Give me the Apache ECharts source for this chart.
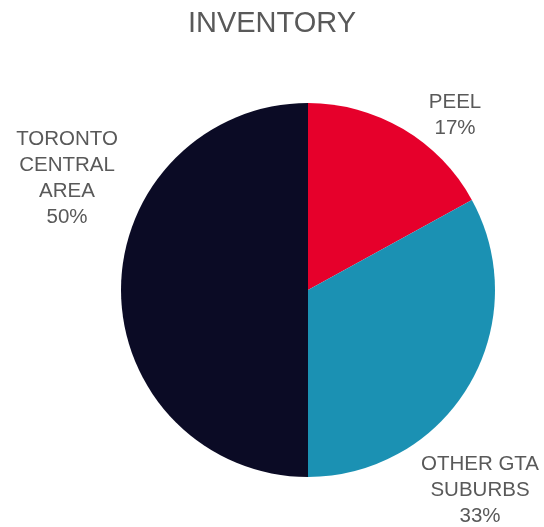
<!DOCTYPE html>
<html>
<head>
<meta charset="utf-8">
<script src="https://cdn.jsdelivr.net/npm/echarts@6/dist/echarts.min.js"></script>
<style>
  html, body { margin: 0; padding: 0; background: #fff; }
  #chart { width: 544px; height: 527px; }
</style>
</head>
<body>
<div id="chart"></div>
<script>
// Inventory share by region
const categories = ['PEEL', 'OTHER GTA\nSUBURBS', 'TORONTO\nCENTRAL\nAREA'];
const shares = [17, 33, 50];
const colors = ['#e6002b', '#1b91b3', '#0b0b25'];
// label anchor points (px) for each slice
const labelSpots = [[455, 115], [480, 490], [67, 178]];

const chart = echarts.init(document.getElementById('chart'));
chart.setOption({
  backgroundColor: '#ffffff',
  title: {
    text: 'INVENTORY',
    left: 'center',
    top: 4,
    textStyle: {
      fontFamily: 'Liberation Sans, Arial, sans-serif',
      fontSize: 29,
      fontWeight: 'normal',
      color: '#595959'
    }
  },
  series: [{
    type: 'pie',
    center: [308, 290],
    radius: 187,
    startAngle: 90,
    clockwise: true,
    silent: true,
    animation: false,
    itemStyle: { borderWidth: 0 },
    label: {
      show: true,
      position: 'outside',
      alignTo: 'none',
      overflow: 'none',
      formatter: p => p.name + '\n' + p.value + '%',
      fontFamily: 'Liberation Sans, Arial, sans-serif',
      fontSize: 20.5,
      lineHeight: 26,
      color: '#595959',
      align: 'center'
    },
    labelLine: { show: false },
    labelLayout: p => ({
      x: labelSpots[p.dataIndex][0],
      y: labelSpots[p.dataIndex][1],
      align: 'center',
      verticalAlign: 'middle'
    }),
    data: categories.map((c, i) => ({
      name: c,
      value: shares[i],
      itemStyle: { color: colors[i] }
    }))
  }]
});
</script>
</body>
</html>
